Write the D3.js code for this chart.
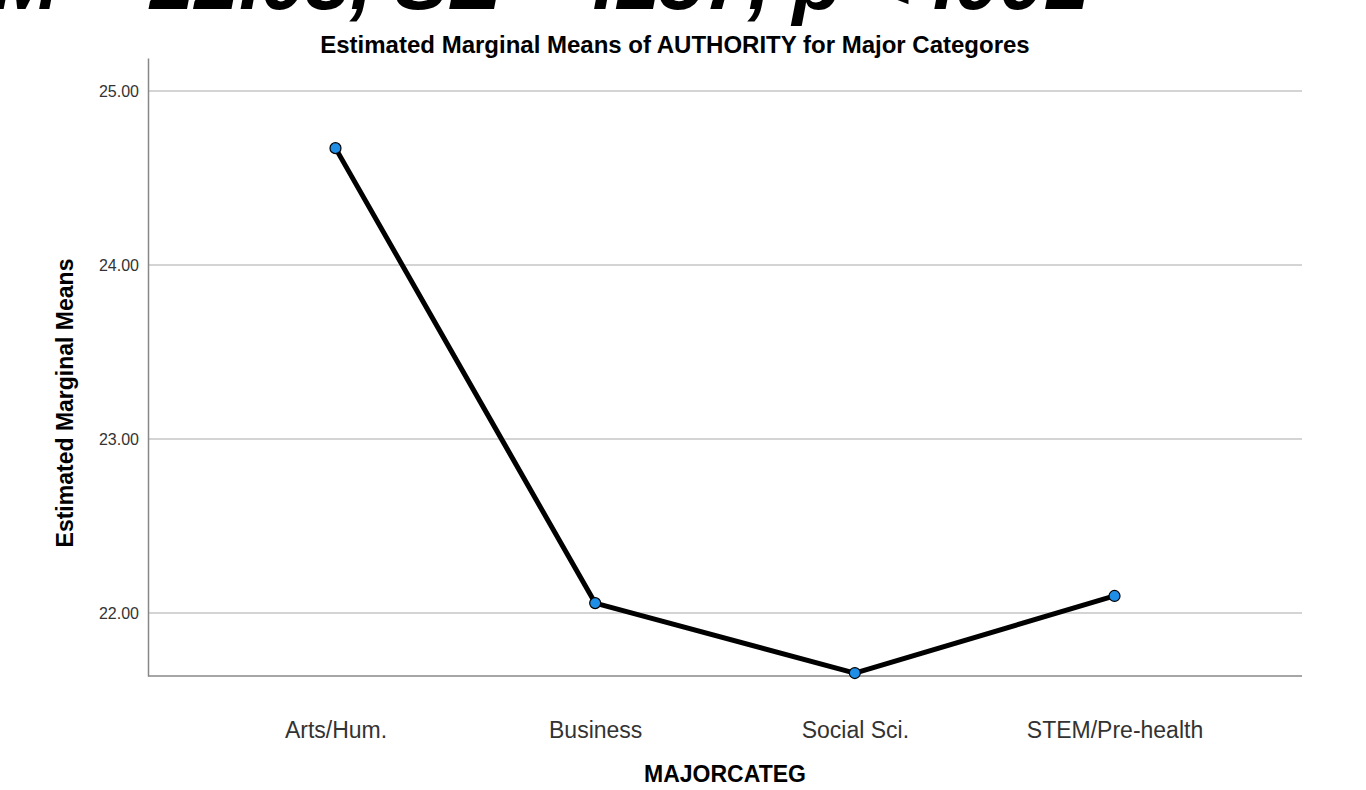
<!DOCTYPE html>
<html>
<head>
<meta charset="utf-8">
<script src="https://cdn.jsdelivr.net/npm/d3@7"></script>
<style>
  body{margin:0;background:#fff;}
  svg{display:block;font-family:"Liberation Sans",Arial,sans-serif;}
</style>
</head>
<body>
<script>
const categories=["Arts/Hum.","Business","Social Sci.","STEM/Pre-health"];
const means=[24.672,22.057,21.655,22.098];
const yTicks=[22,23,24,25];
const title="Estimated Marginal Means of AUTHORITY for Major Categores";
const xLabel="MAJORCATEG";
const yLabel="Estimated Marginal Means";

const w=1366,h=790;
const plotLeft=148,plotRight=1302,plotTop=58,plotBottom=676;

const svg=d3.select("body").append("svg").attr("width",w).attr("height",h);

// clipped text fragment at the very top of the page
svg.append("text")
   .attr("x",-8).attr("y",9)
   .style("font-size","80px").style("font-weight","bold").style("font-style","italic")
   .attr("fill","#000")
   .text("M = 22.03, SE = .157, p < .001");

const x=d3.scalePoint().domain(categories).range([plotLeft,plotRight]).padding(0.722);
const y=d3.scaleLinear().domain([21.638,25.19]).range([plotBottom,plotTop]);

// gridlines
svg.append("g").selectAll("line").data(yTicks).enter().append("line")
   .attr("x1",plotLeft).attr("x2",plotRight)
   .attr("y1",d=>y(d)).attr("y2",d=>y(d))
   .attr("stroke","#d4d4d4").attr("stroke-width",2);

// y axis
const yAxis=d3.axisLeft(y).tickValues(yTicks).tickFormat(d3.format(".2f")).tickSize(0).tickPadding(9);
const gy=svg.append("g").attr("transform","translate("+plotLeft+",0)").call(yAxis);
gy.select(".domain").attr("stroke","#888").attr("stroke-width",1.5);
gy.selectAll("text").style("font-size","16px").attr("fill","#333");

// x axis
const xAxis=d3.axisBottom(x).tickSize(0).tickPadding(46);
const gx=svg.append("g").attr("transform","translate(0,"+plotBottom+")").call(xAxis);
gx.select(".domain").attr("stroke","#888").attr("stroke-width",1.5).attr("d","M"+plotLeft+",0H"+plotRight);
gx.selectAll("text").style("font-size","23px").attr("fill","#333");

// line
const line=d3.line().x((d,i)=>x(categories[i])).y(d=>y(d));
svg.append("path").datum(means)
   .attr("d",line).attr("fill","none")
   .attr("stroke","#000").attr("stroke-width",5).attr("stroke-linejoin","round");

svg.selectAll("circle.pt").data(means).enter().append("circle")
   .attr("class","pt")
   .attr("cx",(d,i)=>x(categories[i])).attr("cy",d=>y(d))
   .attr("r",5.5).attr("fill","#1e8ee6").attr("stroke","#000").attr("stroke-width",1.2);

// labels
svg.append("text").attr("x",675).attr("y",53).attr("text-anchor","middle")
   .style("font-size","24px").style("font-weight","bold").text(title);
svg.append("text").attr("x",725).attr("y",782).attr("text-anchor","middle")
   .style("font-size","23px").style("font-weight","bold").text(xLabel);
svg.append("text").attr("transform","translate(73,403) rotate(-90)").attr("text-anchor","middle")
   .style("font-size","23px").style("font-weight","bold").text(yLabel);
</script>
</body>
</html>
